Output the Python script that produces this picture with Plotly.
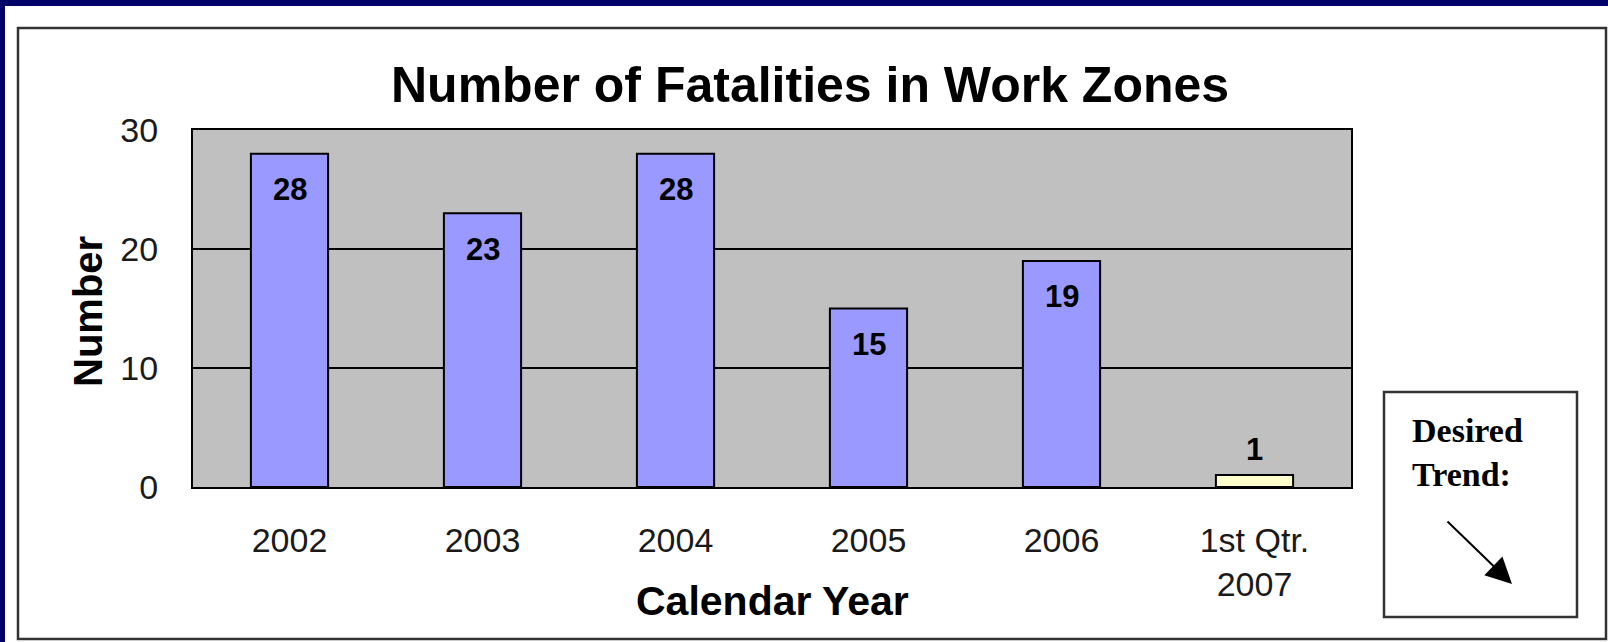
import plotly.graph_objects as go

# ---- data ----
categories = ["2002", "2003", "2004", "2005", "2006", "1st Qtr.<br>2007"]
values = [28, 23, 28, 15, 19, 1]
bar_colors = ["#9999FF", "#9999FF", "#9999FF", "#9999FF", "#9999FF", "#FFFFCC"]
y_ticks = [0, 10, 20, 30]

W, H = 1608, 642
PL, PR, PT, PB = 193, 1351, 130, 487  # plot area in pixels


def px(x):
    return (x - PL) / (PR - PL)


def py(y):
    return (PB - y) / (PB - PT)


FONT = "Liberation Sans, Arial, sans-serif"
NAVY = "#000068"

fig = go.Figure()
fig.add_trace(go.Bar(
    x=categories, y=values,
    marker=dict(color=bar_colors, line=dict(color="#000000", width=2)),
    width=0.40,
    hoverinfo="skip",
))

annotations = []
for i, v in enumerate(values):
    shift = -36 if v >= 5 else 26
    annotations.append(dict(x=i, y=v, xref="x", yref="y", text="<b>%d</b>" % v, showarrow=False,
                            yanchor="middle", yshift=shift,
                            font=dict(family=FONT, size=31, color="#000000")))

# titles
annotations.append(dict(x=px(810), y=py(85), xref="paper", yref="paper", text="<b>Number of Fatalities in Work Zones</b>",
                        showarrow=False, xanchor="center", yanchor="middle",
                        font=dict(family=FONT, size=50, color="#000000")))
annotations.append(dict(x=px(772), y=py(601), xref="paper", yref="paper", text="<b>Calendar Year</b>",
                        showarrow=False, xanchor="center", yanchor="middle",
                        font=dict(family=FONT, size=41, color="#000000")))
annotations.append(dict(x=px(88), y=py(312), xref="paper", yref="paper", text="<b>Number</b>",
                        showarrow=False, xanchor="center", yanchor="middle", textangle=-90,
                        font=dict(family=FONT, size=40, color="#000000")))
# desired trend box text
annotations.append(dict(x=px(1410), y=py(410), xref="paper", yref="paper", text="<b>Desired<br>Trend:</b>",
                        showarrow=False, xanchor="left", yanchor="top", align="left",
                        font=dict(family="Liberation Serif, Times New Roman, serif", size=34, color="#000000")))
annotations.append(dict(x=px(1512), y=py(584), xref="paper", yref="paper", text="",
                        showarrow=True, ax=-66, ay=-64, arrowhead=2, arrowsize=2.6, arrowwidth=2,
                        arrowcolor="#000000"))

shapes = [
    dict(type="rect", xref="paper", yref="paper", x0=px(0), x1=px(5), y0=py(0), y1=py(H),
         fillcolor=NAVY, line=dict(width=0), layer="below"),
    dict(type="rect", xref="paper", yref="paper", x0=px(0), x1=px(W), y0=py(0), y1=py(6),
         fillcolor=NAVY, line=dict(width=0), layer="below"),
    dict(type="rect", xref="paper", yref="paper", x0=px(18), x1=px(1606), y0=py(28), y1=py(639),
         line=dict(color="#333333", width=2.5), fillcolor="rgba(0,0,0,0)", layer="below"),
    dict(type="rect", xref="paper", yref="paper", x0=px(1384), x1=px(1577), y0=py(392), y1=py(617),
         line=dict(color="#333333", width=2.5), fillcolor="rgba(0,0,0,0)", layer="above"),
]

fig.update_layout(
    width=W, height=H,
    margin=dict(l=PL, r=W - PR, t=PT, b=H - PB, pad=0),
    paper_bgcolor="#FFFFFF",
    plot_bgcolor="#C0C0C0",
    showlegend=False,
    bargap=0.6,
    annotations=annotations,
    shapes=shapes,
    font=dict(family=FONT, color="#1a1a1a"),
)
fig.update_xaxes(
    type="category", categoryorder="array", categoryarray=categories,
    range=[-0.5, len(categories) - 0.5], autorange=False,
    showline=True, linecolor="#000000", linewidth=2, mirror=True,
    showgrid=False, ticks="", ticklabelstandoff=22,
    tickfont=dict(family=FONT, size=34, color="#1a1a1a"),
)
fig.update_yaxes(
    range=[0, 30], tickvals=y_ticks, showline=True, linecolor="#000000", linewidth=2, mirror=True,
    showgrid=True, gridcolor="#000000", gridwidth=1.5, zeroline=False, ticks="",
    ticklabelstandoff=26, tickfont=dict(family=FONT, size=34, color="#1a1a1a"),
)

fig.write_html("out.html")
